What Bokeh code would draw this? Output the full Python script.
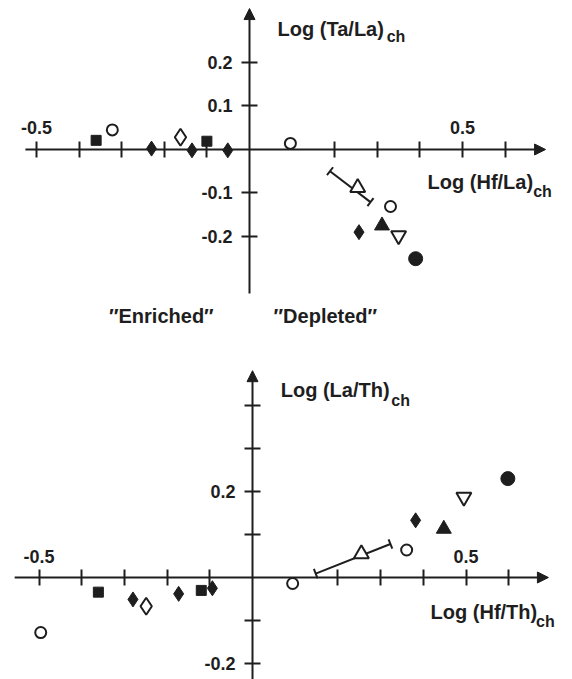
import math
from bokeh.plotting import figure
from bokeh.models import (LinearAxis, FixedTicker, Arrow, NormalHead, Label,
                          Range1d)
from bokeh.layouts import column
from bokeh.embed import file_html
from bokeh.resources import INLINE

# ---------------- data: top panel  Log(Hf/La)ch  vs  Log(Ta/La)ch ----------------
top_fsq_x = [-0.36, -0.10]
top_fsq_y = [0.021, 0.019]
top_ocir_x = [-0.322, 0.096, 0.331]
top_ocir_y = [0.045, 0.014, -0.131]
top_fdia_x = [-0.230, -0.135, -0.051, 0.257]
top_fdia_y = [0.002, -0.002, -0.002, -0.190]
top_odia_x = [-0.162]
top_odia_y = [0.028]
top_otri_x = [0.254]
top_otri_y = [-0.088]
top_bar_x0, top_bar_y0, top_bar_x1, top_bar_y1 = [0.189], [-0.050], [0.284], [-0.121]
top_ftri_x = [0.311]
top_ftri_y = [-0.175]
top_oinv_x = [0.350]
top_oinv_y = [-0.198]
top_fcir_x = [0.390]
top_fcir_y = [-0.251]

top_xticks = [-0.5, -0.4, -0.3, -0.2, -0.1, 0.2, 0.3, 0.4, 0.5, 0.6]
top_xlabels = {-0.5: "-0.5", 0.5: "0.5"}
top_yticks = [0.2, 0.1, -0.1, -0.2]
top_ylabels = {0.2: "0.2", 0.1: "0.1", -0.1: "-0.1", -0.2: "-0.2"}

# ---------------- data: bottom panel  Log(Hf/Th)ch  vs  Log(La/Th)ch ----------------
bot_fsq_x = [-0.361, -0.120]
bot_fsq_y = [-0.034, -0.030]
bot_ocir_x = [-0.496, 0.094, 0.361]
bot_ocir_y = [-0.128, -0.014, 0.064]
bot_fdia_x = [-0.280, -0.173, -0.094, 0.382]
bot_fdia_y = [-0.051, -0.038, -0.025, 0.133]
bot_odia_x = [-0.249]
bot_odia_y = [-0.067]
bot_otri_x = [0.255]
bot_otri_y = [0.055]
bot_bar_x0, bot_bar_y0, bot_bar_x1, bot_bar_y1 = [0.148], [0.009], [0.323], [0.078]
bot_ftri_x = [0.448]
bot_ftri_y = [0.113]
bot_oinv_x = [0.495]
bot_oinv_y = [0.187]
bot_fcir_x = [0.598]
bot_fcir_y = [0.230]

bot_xticks = [-0.5, -0.4, -0.3, -0.2, -0.1, 0.2, 0.3, 0.4, 0.5, 0.6]
bot_xlabels = {-0.5: "-0.5", 0.5: "0.5"}
bot_yticks = [0.4, 0.3, 0.2, 0.1, -0.1, -0.2]
bot_ylabels = {0.2: "0.2", -0.2: "-0.2"}

INK = "#1e1e1e"
FONT = "Liberation Sans"
W = 572


def make_panel(h, xr, yr, xax, yax, xticks, xlabels, yticks, ylabels, d,
               bar, titles):
    p = figure(width=W, height=h, x_range=Range1d(*xr), y_range=Range1d(*yr),
               output_backend="svg", toolbar_location=None,
               x_axis_location=None, y_axis_location=None,
               min_border=0, outline_line_color=None)
    p.xgrid.visible = False
    p.ygrid.visible = False

    # axes lines with arrows
    p.add_layout(Arrow(end=NormalHead(size=11, fill_color=INK, line_color=INK, line_width=1),
                       x_start=xax[0], y_start=0, x_end=xax[1], y_end=0,
                       line_color=INK, line_width=2))
    p.add_layout(Arrow(end=NormalHead(size=11, fill_color=INK, line_color=INK, line_width=1),
                       x_start=0, y_start=yax[0], x_end=0, y_end=yax[1],
                       line_color=INK, line_width=2))

    # tick axes fixed at zero
    xa = LinearAxis(fixed_location=0, ticker=FixedTicker(ticks=xticks),
                    axis_line_color=None, major_tick_in=8, major_tick_out=8,
                    major_tick_line_width=2, major_tick_line_color=INK,
                    minor_tick_line_color=None, major_label_standoff=7,
                    major_label_text_font=FONT, major_label_text_font_style="bold",
                    major_label_text_font_size="18px", major_label_text_color=INK,
                    major_label_overrides={t: xlabels.get(t, "") for t in xticks})
    p.add_layout(xa, "above")
    ya = LinearAxis(fixed_location=0, ticker=FixedTicker(ticks=yticks),
                    axis_line_color=None, major_tick_in=8, major_tick_out=8,
                    major_tick_line_width=2, major_tick_line_color=INK,
                    minor_tick_line_color=None, major_label_standoff=9,
                    major_label_text_font=FONT, major_label_text_font_style="bold",
                    major_label_text_font_size="18px", major_label_text_color=INK,
                    major_label_overrides={t: ylabels.get(t, "") for t in yticks})
    p.add_layout(ya, "left")

    # error bar with caps
    bx0, by0, bx1, by1 = bar
    p.segment(x0=bx0, y0=by0, x1=bx1, y1=by1, line_color=INK, line_width=2)
    sx = W / (xr[1] - xr[0])
    sy = h / (yr[1] - yr[0])
    ang = math.atan2((by1[0] - by0[0]) * sy, (bx1[0] - bx0[0]) * sx) + math.pi / 2
    p.scatter(x=bx0 + bx1, y=by0 + by1, marker="dash", size=10, angle=ang,
              line_color=INK, line_width=2)

    open_kw = dict(fill_color="white", line_color=INK, line_width=2)
    fill_kw = dict(fill_color=INK, line_color=INK, line_width=1)
    p.scatter(d["fsq"][0], d["fsq"][1], marker="square", size=10, **fill_kw)
    p.scatter(d["ocir"][0], d["ocir"][1], marker="circle", size=11, **open_kw)
    p.scatter(d["fdia"][0], d["fdia"][1], marker="diamond", size=15, **fill_kw)
    p.scatter(d["odia"][0], d["odia"][1], marker="diamond", size=17, **open_kw)
    p.scatter(d["otri"][0], d["otri"][1], marker="triangle", size=15, **open_kw)
    p.scatter(d["ftri"][0], d["ftri"][1], marker="triangle", size=15, **fill_kw)
    p.scatter(d["oinv"][0], d["oinv"][1], marker="inverted_triangle", size=15, **open_kw)
    p.scatter(d["fcir"][0], d["fcir"][1], marker="circle", size=14, **fill_kw)

    for (tx, ty, txt, fs) in titles:
        p.add_layout(Label(x=tx, y=ty, text=txt, text_font=FONT,
                           text_font_style="bold", text_font_size=fs,
                           text_color=INK, text_align="left",
                           text_baseline="alphabetic"))
    return p


top = make_panel(
    340, (-0.5845, 0.7582), (-0.4391, 0.3425), (-0.526, 0.695), (-0.331, 0.324),
    top_xticks, top_xlabels, top_yticks, top_ylabels,
    dict(fsq=(top_fsq_x, top_fsq_y), ocir=(top_ocir_x, top_ocir_y),
         fdia=(top_fdia_x, top_fdia_y), odia=(top_odia_x, top_odia_y),
         otri=(top_otri_x, top_otri_y), ftri=(top_ftri_x, top_ftri_y),
         oinv=(top_oinv_x, top_oinv_y), fcir=(top_fcir_x, top_fcir_y)),
    (top_bar_x0, top_bar_y0, top_bar_x1, top_bar_y1),
    [(0.066, 0.278, "Log (Ta/La)", "20px"), (0.322, 0.260, "ch", "16px"),
     (0.418, -0.074, "Log (Hf/La)", "20px"), (0.666, -0.097, "ch", "16px")])
top.add_layout(Label(x=-0.207, y=-0.382, text="\u2033Enriched\u2033", text_font=FONT,
                     text_font_style="bold", text_font_size="20px", text_color=INK,
                     text_align="center", text_baseline="middle"))
top.add_layout(Label(x=0.178, y=-0.382, text="\u2033Depleted\u2033", text_font=FONT,
                     text_font_style="bold", text_font_size="20px", text_color=INK,
                     text_align="center", text_baseline="middle"))

bot = make_panel(
    339, (-0.5902, 0.7494), (-0.2372, 0.5512), (-0.557, 0.693), (-0.2372, 0.481),
    bot_xticks, bot_xlabels, bot_yticks, bot_ylabels,
    dict(fsq=(bot_fsq_x, bot_fsq_y), ocir=(bot_ocir_x, bot_ocir_y),
         fdia=(bot_fdia_x, bot_fdia_y), odia=(bot_odia_x, bot_odia_y),
         otri=(bot_otri_x, bot_otri_y), ftri=(bot_ftri_x, bot_ftri_y),
         oinv=(bot_oinv_x, bot_oinv_y), fcir=(bot_fcir_x, bot_fcir_y)),
    (bot_bar_x0, bot_bar_y0, bot_bar_x1, bot_bar_y1),
    [(0.066, 0.435, "Log (La/Th)", "20px"), (0.325, 0.411, "ch", "16px"),
     (0.417, -0.081, "Log (Hf/Th)", "20px"), (0.664, -0.103, "ch", "16px")])

layout = column(top, bot, spacing=0)
open("out.html", "w").write(file_html(layout, INLINE))
